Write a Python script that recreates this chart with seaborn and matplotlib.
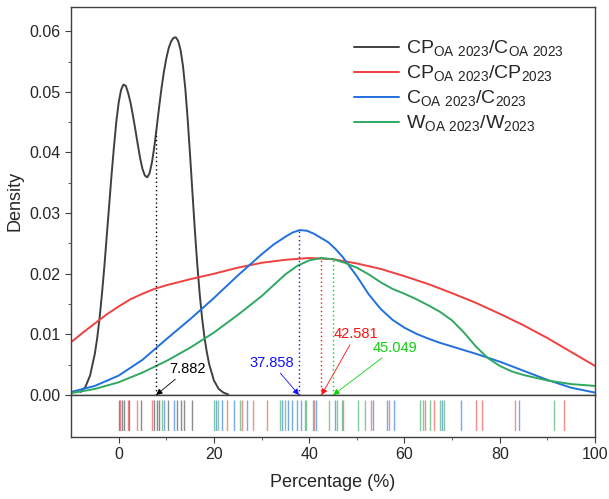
import numpy as np
import pandas as pd
import matplotlib
matplotlib.use("Agg")
import matplotlib.pyplot as plt
import seaborn as sns

# --- rug positions (raw values) ---
black = [0.0, 0.7, 1.2, 2.2, 4.7, 7.4, 8.0, 8.5, 10.4, 12.2, 13.1, 13.8, 15.3]
red = [0.3, 1.9, 3.9, 7.1, 22.7, 25.8, 28.3, 31.1, 41.0, 47.1, 52.9, 56.7,
       64.3, 66.2, 75.1, 76.3, 83.3, 93.4]
blue = [9.6, 11.6, 20.4, 21.6, 24.3, 26.9, 34.3, 35.6, 36.3, 37.4, 38.2, 41.4,
        45.5, 53.3, 56.4, 57.8, 67.9, 71.8, 84.0]
green = [9.2, 20.0, 20.9, 25.5, 33.9, 34.9, 39.1, 39.3, 40.7, 44.1, 45.9, 46.9,
         50.3, 51.8, 63.2, 63.9, 65.3, 67.4, 68.4, 91.3]

# --- density curves ---
black_x = [-8, -7, -6, -5, -4.5, -4, -3.5, -3, -2.5, -2, -1.5, -1, -0.5, 0, 0.5,
           1, 1.5, 2, 2.5, 3, 3.5, 4, 4.5, 5, 5.5, 6, 6.5, 7, 7.5, 8, 8.5, 9,
           9.5, 10, 10.5, 11, 11.5, 12, 12.5, 13, 13.5, 14, 14.5, 15, 15.5, 16,
           16.5, 17, 17.5, 18, 18.5, 19, 20, 21, 22, 23]
black_y = [0.0005, 0.0013, 0.0032, 0.0068, 0.0094, 0.0127, 0.0167, 0.0212,
           0.0262, 0.0312, 0.0362, 0.0408, 0.0450, 0.0482, 0.0503, 0.0512,
           0.0510, 0.0498, 0.0482, 0.0461, 0.0438, 0.0414, 0.0391, 0.0373,
           0.0362, 0.0359, 0.0366, 0.0384, 0.0410, 0.0442, 0.0475, 0.0506,
           0.0533, 0.0555, 0.0572, 0.0583, 0.0589, 0.0590, 0.0584, 0.0569,
           0.0543, 0.0505, 0.0454, 0.0395, 0.0333, 0.0272, 0.0216, 0.0168,
           0.0128, 0.0096, 0.0071, 0.0051, 0.0024, 0.0010, 0.0004, 0.0001]
red_x = [-10, -7.5, -5, -2.5, 0, 2.5, 5, 7.5, 10, 12.5, 15, 20, 25, 30, 35, 40,
         45, 50, 55, 60, 65, 70, 75, 80, 85, 90, 95, 100]
red_y = [0.0087, 0.0103, 0.0118, 0.0133, 0.0146, 0.0158, 0.0167, 0.0175, 0.0181,
         0.0186, 0.0191, 0.0200, 0.0210, 0.0218, 0.0223, 0.0226, 0.0224, 0.0217,
         0.0208, 0.0196, 0.0183, 0.0168, 0.0152, 0.0134, 0.0115, 0.0094, 0.0071,
         0.0048]
blue_x = [-10, -5, 0, 5, 10, 15, 20, 25, 30, 32.5, 35, 36.5, 38, 39.5, 41, 42.5,
          44, 45.5, 47, 48.5, 50, 52.5, 55, 57.5, 60, 62.5, 65, 67.5, 70, 75, 80,
          85, 90, 95, 100]
blue_y = [0.0005, 0.0015, 0.0032, 0.0058, 0.0092, 0.0125, 0.0160, 0.0197, 0.0232,
          0.0248, 0.0261, 0.0268, 0.0272, 0.0271, 0.0266, 0.0259, 0.0252, 0.0241,
          0.0228, 0.0212, 0.0196, 0.0166, 0.0142, 0.0124, 0.0111, 0.0101, 0.0093,
          0.0086, 0.0080, 0.0068, 0.0055, 0.0040, 0.0025, 0.0012, 0.0004]
green_x = [-10, -5, 0, 5, 10, 15, 20, 25, 30, 32.5, 35, 37.5, 40, 42.5, 45, 47.5,
           50, 52.5, 55, 57.5, 60, 62.5, 65, 67.5, 70, 72.5, 75, 77.5, 80, 82.5,
           85, 90, 95, 100]
green_y = [0.0003, 0.0010, 0.0021, 0.0037, 0.0056, 0.0078, 0.0103, 0.0132, 0.0163,
           0.0181, 0.0199, 0.0213, 0.0222, 0.0226, 0.0224, 0.0218, 0.0210, 0.0199,
           0.0186, 0.0175, 0.0167, 0.0158, 0.0148, 0.0137, 0.0123, 0.0103, 0.0080,
           0.0061, 0.0048, 0.0039, 0.0033, 0.0024, 0.0018, 0.0015]

labels = [r"CP$_{\mathrm{OA\ 2023}}$/C$_{\mathrm{OA\ 2023}}$",
          r"CP$_{\mathrm{OA\ 2023}}$/CP$_{\mathrm{2023}}$",
          r"C$_{\mathrm{OA\ 2023}}$/C$_{\mathrm{2023}}$",
          r"W$_{\mathrm{OA\ 2023}}$/W$_{\mathrm{2023}}$"]
line_colors = ["#404040", "#f04040", "#2070e0", "#30a860"]

# marked values and the curve each one sits on
marks = [7.882, 37.858, 42.581, 45.049]
mark_curve = [0, 2, 1, 3]
mark_colors = ["#000000", "#1010ff", "#ff1010", "#10d010"]
mark_text = [(14.5, 0.0043), (32.1, 0.0053), (49.8, 0.0100), (58.1, 0.0078)]

rug_groups = [black, red, blue, green]
curves = [(black_x, black_y), (red_x, red_y), (blue_x, blue_y), (green_x, green_y)]

rug_df = pd.DataFrame({"value": [v for g in rug_groups for v in g],
                       "group": [labels[i] for i, g in enumerate(rug_groups) for _ in g]})

sns.set_style("ticks")
plt.rcParams["font.family"] = ["Liberation Sans", "DejaVu Sans"]
plt.rcParams["mathtext.fontset"] = "custom"
plt.rcParams["mathtext.rm"] = "Liberation Sans"
plt.rcParams["axes.edgecolor"] = "#404040"
plt.rcParams["axes.linewidth"] = 1.0

fig = plt.figure(figsize=(6.09, 4.99), dpi=100)
ax = fig.add_axes([0.1166, 0.2084, 0.8604, 0.7776])
ax_r = fig.add_axes([0.1166, 0.1242, 0.8604, 0.0842])

for i, (cx, cy) in enumerate(curves):
    sns.lineplot(x=cx, y=cy, color=line_colors[i], lw=1.4, label=labels[i],
                 estimator=None, sort=False, legend=False, ax=ax,
                 solid_joinstyle="round", solid_capstyle="round")

# dotted drop lines and arrows with the values
for j, m in enumerate(marks):
    cx, cy = curves[mark_curve[j]]
    top = np.interp(m, cx, cy)
    ax.plot([m, m], [0, top], ls=(0, (1, 2)), lw=1.0, color=mark_colors[j])
    ax.annotate(f"{m:.3f}", xy=(m, 0), xytext=mark_text[j], color=mark_colors[j],
                fontsize=10.5, ha="center", va="center",
                arrowprops=dict(arrowstyle="-|>", color=mark_colors[j], lw=0.6,
                                mutation_scale=9, shrinkA=0, shrinkB=0))

ax.set_xlim(-10, 100)
ax.set_ylim(0, 0.064)
ax.set_yticks(np.arange(0, 0.061, 0.01))
ax.set_yticks(np.arange(0.005, 0.061, 0.01), minor=True)
ax.yaxis.set_major_formatter(matplotlib.ticker.FormatStrFormatter("%.2f"))
ax.tick_params(axis="y", which="major", length=4, labelsize=11.5, color="#404040")
ax.tick_params(axis="y", which="minor", length=2.5, color="#404040")
ax.set_xticks([])
ax.set_ylabel("Density", fontsize=13)
ax.set_xlabel("")
ax.legend(loc="upper right", frameon=False, fontsize=14, handlelength=2.3,
          handletextpad=0.4, labelspacing=0.25, bbox_to_anchor=(0.975, 0.964))

# rug strip under the curves
ax_in = ax_r.inset_axes([0, 0.14, 1, 0.74])
sns.rugplot(data=rug_df, x="value", hue="group", palette=dict(zip(labels, line_colors)),
            height=1, lw=1.5, alpha=0.6, legend=False, ax=ax_in)
ax_in.set_xlim(-10, 100)
ax_in.set_xticks([])
ax_in.set_yticks([])
ax_in.set_xlabel("")
ax_in.set_ylabel("")
ax_in.axis("off")
ax_r.set_yticks([])
ax_r.set_xlim(-10, 100)
ax_r.set_xticks(np.arange(0, 101, 20))
ax_r.set_xticks(np.arange(10, 101, 20), minor=True)
ax_r.tick_params(axis="x", which="major", length=4, labelsize=11.5, color="#404040")
ax_r.tick_params(axis="x", which="minor", length=2.5, color="#404040")
ax_r.set_xlabel("Percentage (%)", fontsize=13, labelpad=8)

fig.savefig("out.png", dpi=100)
